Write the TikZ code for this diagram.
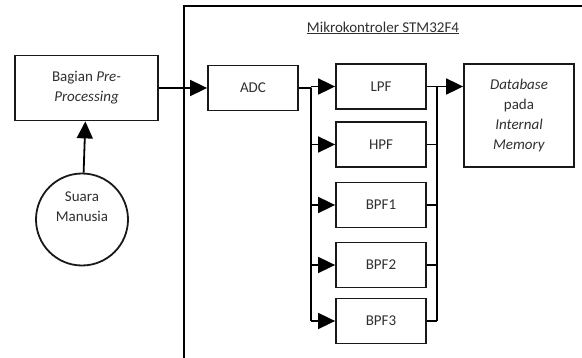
\documentclass[tikz,border=0pt]{standalone}
\usepackage{fontspec}
\setmainfont{Carlito}
\usepackage{tikz}
\usetikzlibrary{arrows.meta, positioning, calc}
\definecolor{figtext}{HTML}{303030}
\tikzset{
  figbox/.style={draw=black!90, line width=1.8pt, fill=white, align=center,
    inner sep=0pt, text=figtext, font=\fontsize{15}{20}\selectfont},
  figcircle/.style={circle, draw=black!90, line width=1.8pt, minimum size=92pt,
    inner sep=0pt},
  figarrow/.style={-{Triangle[length=17pt, width=16pt]}, line width=1.8pt, black},
  figline/.style={line width=1.8pt, black},
  figlabel/.style={font=\fontsize{15}{20}\selectfont, text=figtext, align=center},
}
\begin{document}
\begin{tikzpicture}[x=1pt, y=-1pt]
  \useasboundingbox (0,0) rectangle (582,358);
  % mikrokontroler frame
  \draw[figline] (184,358) |- (582,6);
  \node[figlabel] (mcu) at (383,28) {\underline{Mikrokontroler STM32F4}};
  % blocks
  \node[figbox, minimum width=143pt, minimum height=65pt] (pre) at (86.5,88) {Bagian \textit{Pre-}\\\textit{Processing}};
  \node[figcircle] (voice) at (82,219.5) {};
  \node[figlabel] (voicetxt) at (82,207) {Suara\\Manusia};
  \node[figbox, minimum width=90pt, minimum height=45pt] (adc) at (253,88) {ADC};
  \node[figbox, minimum width=90pt, minimum height=45pt] (lpf) at (381,86.5) {LPF};
  \node[figbox, minimum width=90pt, minimum height=45pt] (hpf) at (381,144.5) {HPF};
  \node[figbox, minimum width=90pt, minimum height=45pt] (bpf1) at (381,205) {BPF1};
  \node[figbox, minimum width=90pt, minimum height=45pt] (bpf2) at (381,265) {BPF2};
  \node[figbox, minimum width=90pt, minimum height=45pt] (bpf3) at (381,321) {BPF3};
  \node[figbox, minimum width=110pt, minimum height=103pt] (db) at (519,115.5) {\textit{Database}\\pada\\\textit{Internal}\\\textit{Memory}};
  \coordinate (busl) at (311,0);
  \coordinate (busr) at (437,0);
  % connections
  \draw[figarrow] (voice) -- (pre);
  \draw[figarrow] (pre) -- (adc);
  \draw[figline, line join=round] (adc.east) -- (adc.east -| busl) |- (bpf3.west -| busl);
  \foreach \f in {lpf, hpf, bpf1, bpf2, bpf3}
    \draw[figarrow] (\f.west -| busl) -- (\f.west);
  \foreach \f in {lpf, hpf, bpf1, bpf2, bpf3}
    \draw[figline] (\f.east) -- (\f.east -| busr);
  \draw[figline, line join=round] (lpf.east -| busr) -- (bpf3.east -| busr);
  \draw[figarrow] (lpf.east -| busr) -- (lpf.east -| db.west);
\end{tikzpicture}
\end{document}
